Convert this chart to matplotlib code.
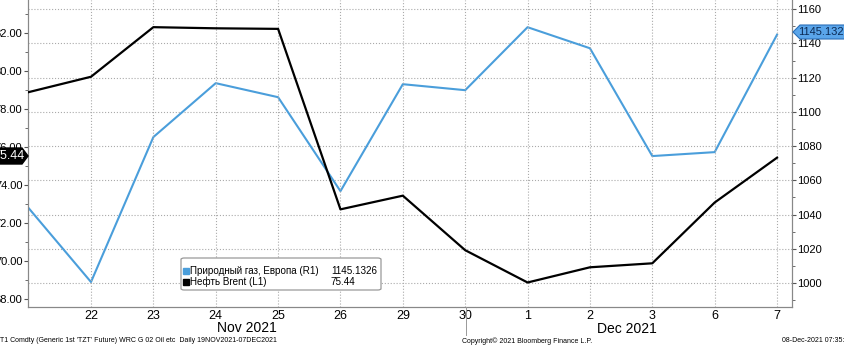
import numpy as np
import matplotlib.pyplot as plt
from matplotlib.patches import Polygon, FancyBboxPatch
from matplotlib.ticker import MultipleLocator

plt.rcParams.update({"font.family": ["Liberation Sans", "DejaVu Sans"]})

W, H = 845, 347

# data
days = ["19", "22", "23", "24", "25", "26", "29", "30", "1", "2", "3", "6", "7"]
gas = [1043.8, 1000.6, 1085.3, 1116.8, 1108.6, 1053.7, 1116.2, 1112.7,
       1149.5, 1137.2, 1074.2, 1076.5, 1145.1326]
brent = [78.89, 79.70, 82.31, 82.25, 82.22, 72.72, 73.44, 70.57,
         68.87, 69.67, 69.88, 73.08, 75.44]
gas_last = "1145.1326"
brent_last = "75.44"

x = np.arange(len(days))
gas_col = "#4a9edb"


def fx(px):
    return px / W


def fy(py):
    return 1 - py / H


fig = plt.figure(figsize=(W / 100, H / 100), dpi=100)
ax = fig.add_axes([fx(28), fy(307), fx(792) - fx(28), fy(0) - fy(307)])
ax2 = ax.twinx()

ax.plot(x, brent, color="black", lw=1.6, zorder=3)
ax2.plot(x, gas, color=gas_col, lw=1.5, zorder=3)

ax.set_xlim(-0.01, 12.24)
ax.set_ylim(67.58, 83.74)
ax2.set_ylim(986, 1165.4)

ax.set_xticks(x[1:])
ax.set_xticklabels(days[1:], fontsize=9)
ax.set_yticks(np.arange(68, 84, 2))
ax.set_yticklabels(["%.2f" % v for v in np.arange(68, 84, 2)], fontsize=8)
ax.yaxis.set_minor_locator(MultipleLocator(1))
ax2.set_yticks(np.arange(1000, 1161, 20))
ax2.tick_params(axis="y", labelsize=8)
ax2.yaxis.set_minor_locator(MultipleLocator(10))

for a in (ax, ax2):
    for s in a.spines.values():
        s.set_color("#888888")
    a.spines["top"].set_visible(False)
    a.tick_params(which="both", color="#555555", length=3, pad=1)
    a.tick_params(which="minor", length=2)
ax.tick_params(axis="x", length=0, pad=2)

ax.grid(axis="x", color="#aaaaaa", ls=":", lw=0.8)
ax2.grid(axis="y", color="#aaaaaa", ls=":", lw=0.8)
ax.set_zorder(ax2.get_zorder() + 1)
ax.patch.set_visible(False)

# month labels + separator
fig.text(fx(247), fy(328), "Nov 2021", ha="center", va="center", fontsize=10)
fig.text(fx(627), fy(329), "Dec 2021", ha="center", va="center", fontsize=10)
fig.add_artist(plt.Line2D([fx(466), fx(466)], [fy(307), fy(335)],
                          color="#999999", lw=0.7))

# footer
fig.text(fx(0), fy(341), "T1 Comdty (Generic 1st 'TZT' Future) WRC G 02 Oil etc  Daily 19NOV2021-07DEC2021",
         ha="left", va="center", fontsize=5)
fig.text(fx(462), fy(341), "Copyright\u00a9 2021 Bloomberg Finance L.P.",
         ha="left", va="center", fontsize=5)
fig.text(fx(782), fy(341), "08-Dec-2021 07:35:22", ha="left", va="center", fontsize=5)

# legend box
fig.patches.append(FancyBboxPatch((fx(181), fy(290)), fx(381) - fx(181), fy(258) - fy(290),
                                  boxstyle="round,pad=0,rounding_size=0.004",
                                  transform=fig.transFigure, facecolor="white",
                                  edgecolor="#999999", lw=0.9, zorder=5))
fig.patches.append(plt.Rectangle((fx(183), fy(274)), fx(6), fx(6) * W / H,
                                 transform=fig.transFigure, color=gas_col, zorder=6))
fig.patches.append(plt.Rectangle((fx(183), fy(285)), fx(6), fx(6) * W / H,
                                 transform=fig.transFigure, color="black", zorder=6))
fig.text(fx(190), fy(271), "Природный газ, Европа (R1)", fontsize=7.1, va="center", zorder=7)
fig.text(fx(331), fy(271), gas_last, fontsize=7.1, va="center", zorder=7)
fig.text(fx(190), fy(282), "Нефть Brent (L1)", fontsize=7.1, va="center", zorder=7)
fig.text(fx(331), fy(282), brent_last, fontsize=7.1, va="center", zorder=7)

# last value tags
yl = 156
fig.patches.append(Polygon([(fx(-5), fy(yl - 8)), (fx(22), fy(yl - 8)), (fx(28), fy(yl)),
                            (fx(22), fy(yl + 8)), (fx(-5), fy(yl + 8))],
                           closed=True, transform=fig.transFigure, facecolor="black",
                           edgecolor="black", zorder=8))
fig.text(fx(25), fy(yl), brent_last, color="white", fontsize=9, ha="right", va="center", zorder=9)

yr = 32
fig.patches.append(Polygon([(fx(793), fy(yr)), (fx(800), fy(yr - 7)), (fx(850), fy(yr - 7)),
                            (fx(850), fy(yr + 7)), (fx(800), fy(yr + 7))],
                           closed=True, transform=fig.transFigure, facecolor="#5aa5ea",
                           edgecolor="#2a6fb8", lw=0.8, zorder=8))
fig.text(fx(798), fy(yr), gas_last, color="#0b2a55", fontsize=8, ha="left", va="center", zorder=9)

fig.savefig("out.png", dpi=100)
